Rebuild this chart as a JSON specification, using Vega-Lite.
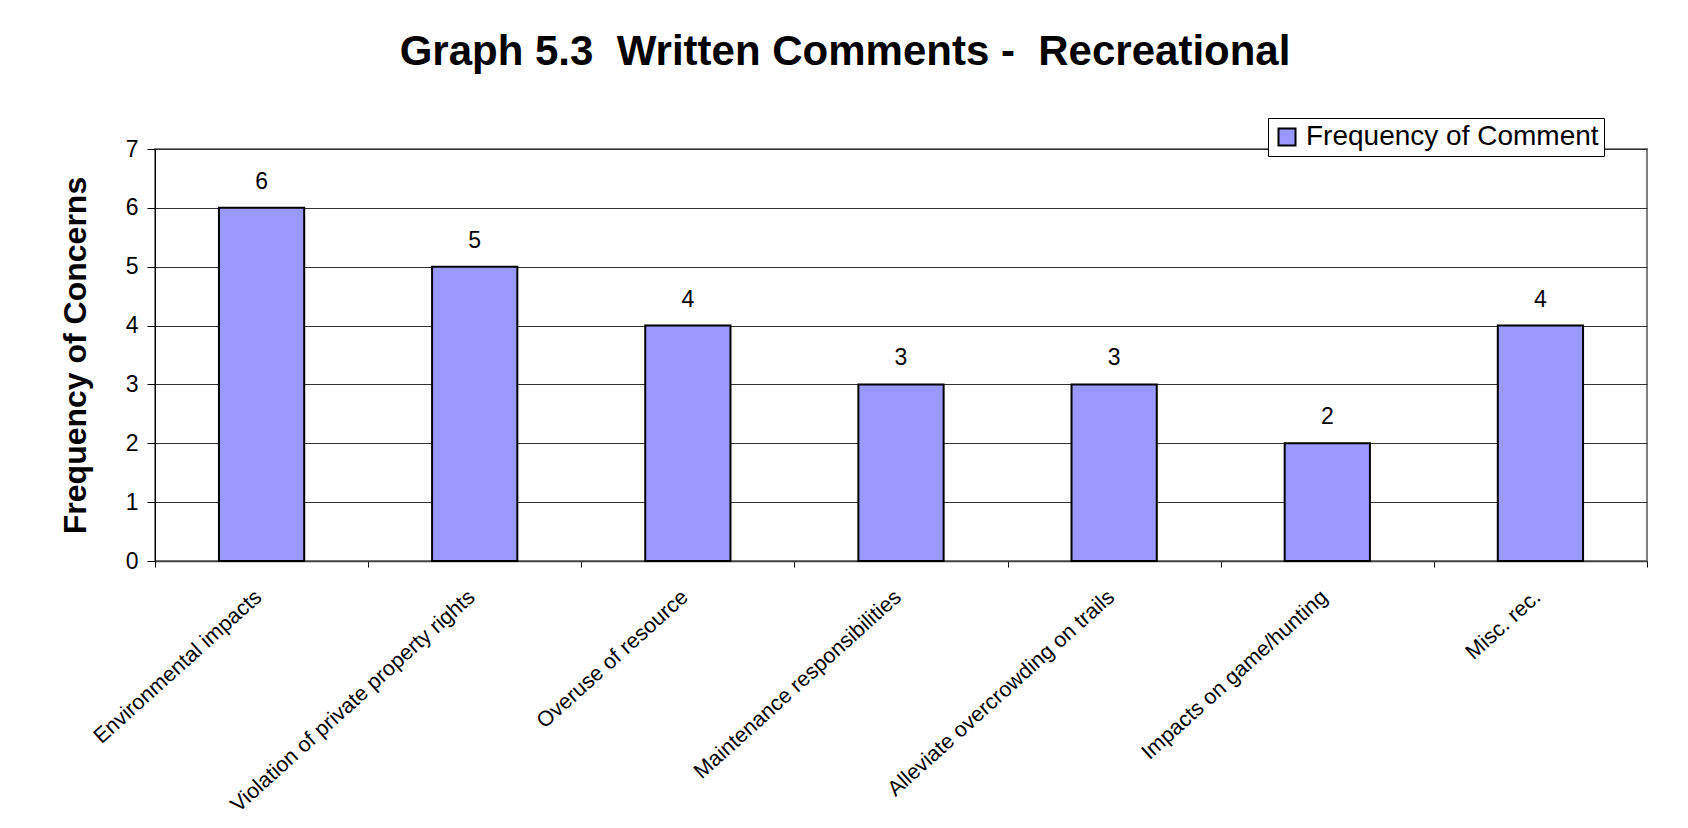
{
  "$schema": "https://vega.github.io/schema/vega-lite/v6.json",
  "autosize": "none",
  "width": 1492,
  "height": 412,
  "padding": {"left": 155, "top": 149, "right": 41, "bottom": 267},
  "background": "white",
  "title": {
    "text": "Graph 5.3\u00a0 Written Comments -\u00a0 Recreational",
    "font": "Liberation Sans",
    "fontSize": 42,
    "fontWeight": "bold",
    "color": "black",
    "anchor": "middle",
    "frame": "group",
    "dx": -56,
    "offset": 44
  },
  "data": {
    "values": [
      {"category": "Environmental impacts", "count": 6},
      {"category": "Violation of private property rights", "count": 5},
      {"category": "Overuse of resource", "count": 4},
      {"category": "Maintenance responsibilities", "count": 3},
      {"category": "Alleviate overcrowding on trails", "count": 3},
      {"category": "Impacts on game/hunting", "count": 2},
      {"category": "Misc. rec.", "count": 4}
    ]
  },
  "encoding": {
    "x": {
      "field": "category",
      "type": "nominal",
      "sort": null,
      "scale": {"paddingInner": 0, "paddingOuter": 0},
      "axis": {
        "title": null,
        "labelAngle": -42,
        "labelAlign": "right",
        "labelBaseline": "middle",
        "labelFont": "Liberation Sans",
        "labelFontSize": 21.5,
        "labelColor": "black",
        "labelPadding": 27,
        "labelOffset": -3,
        "labelLimit": 600,
        "tickBand": "extent",
        "tickSize": 6,
        "tickColor": "black",
        "domainColor": "#404040",
        "domainWidth": 1.5
      }
    },
    "y": {
      "field": "count",
      "type": "quantitative",
      "scale": {"domain": [0, 7], "nice": false},
      "axis": {
        "title": "Frequency of Concerns",
        "titleFont": "Liberation Sans",
        "titleFontSize": 32,
        "titleFontWeight": "bold",
        "titleColor": "black",
        "titlePadding": 33,
        "values": [0, 1, 2, 3, 4, 5, 6, 7],
        "labelFont": "Liberation Sans",
        "labelFontSize": 23,
        "labelColor": "black",
        "labelPadding": 9,
        "tickSize": 8,
        "tickColor": "black",
        "domainColor": "black",
        "grid": true,
        "gridColor": "#333333",
        "gridWidth": 1
      }
    }
  },
  "layer": [
    {
      "mark": {"type": "bar", "width": {"band": 0.4}, "stroke": "black", "strokeWidth": 2},
      "encoding": {
        "color": {
          "datum": "Frequency of Comment",
          "type": "nominal",
          "scale": {"range": ["#9999FF"]},
          "legend": {
            "title": null,
            "orient": "none",
            "legendX": 1113,
            "legendY": -31,
            "fillColor": "white",
            "strokeColor": "black",
            "padding": 5,
            "symbolType": "square",
            "symbolSize": 290,
            "symbolStrokeColor": "black",
            "symbolStrokeWidth": 2,
            "symbolFillColor": "#9999FF",
            "labelFont": "Liberation Sans",
            "labelFontSize": 28,
            "labelColor": "black",
            "labelOffset": 5,
            "labelLimit": 500
          }
        }
      }
    },
    {
      "mark": {"type": "text", "dy": -26, "baseline": "middle", "font": "Liberation Sans", "fontSize": 23, "color": "black"},
      "encoding": {"text": {"field": "count", "type": "quantitative"}}
    }
  ],
  "config": {
    "view": {"stroke": "#808080", "strokeWidth": 2}
  }
}
